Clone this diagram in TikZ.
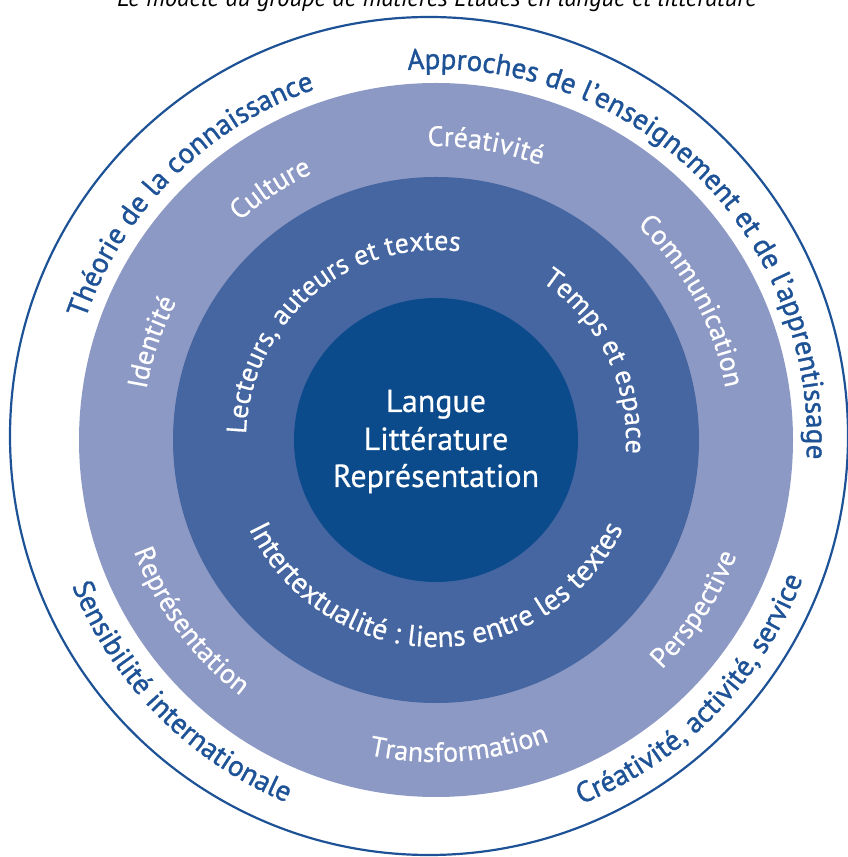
\documentclass[tikz,border=0pt]{standalone}
\usepackage{fontspec}
\setmainfont{PT Sans}
\newfontfamily\outerfam{PT Sans}[FakeBold=1.2]
\newfontfamily\innerfam{PT Sans}[FakeBold=0.5]
\usetikzlibrary{decorations.text}

\definecolor{ringblue}{HTML}{1E5296}
\definecolor{lightring}{HTML}{8D99C5}
\definecolor{darkring}{HTML}{4566A1}
\definecolor{corefill}{HTML}{0B4A8B}

\newcommand{\outerfont}{\outerfam\fontsize{29}{29}\selectfont}
\newcommand{\ringfont}{\innerfam\fontsize{28}{28}\selectfont}
\newcommand{\darkfont}{\innerfam\fontsize{28}{28}\selectfont}
\newcommand{\darkwidefont}{\innerfam\fontsize{29.5}{29.5}\selectfont}

% text set clockwise over the top of a circle (baseline inside)
\newcommand{\toplabel}[5]{%
  \path[#4={#5}] (#2+#3:#1) arc[start angle=#2+#3, end angle=#2-#3, radius=#1];}
% text set anticlockwise under the bottom of a circle (baseline outside)
\newcommand{\botlabel}[5]{%
  \path[#4={#5}] (#2-#3:#1) arc[start angle=#2-#3, end angle=#2+#3, radius=#1];}

\tikzset{
  outerlbl/.style={decorate, decoration={text along path, text align=center,
      text color=ringblue, text={|\outerfont|#1}}},
  ringlbl/.style={decorate, decoration={text along path, text align=center,
      text color=white, text={|\ringfont|#1}}},
  darklbl/.style={decorate, decoration={text along path, text align=center,
      text color=white, text={|\darkfont|#1}}},
  darkwidelbl/.style={decorate, decoration={text along path, text align=center,
      text color=white, text={|\darkwidefont|#1}}},
  corelbl/.style={anchor=base, text=white, inner sep=0pt,
      font=\innerfam\fontsize{32}{32}\selectfont},
}

\begin{document}
\begin{tikzpicture}[x=1pt,y=1pt]
\useasboundingbox (0,0) rectangle (848,857);

% title line
\node[anchor=base, inner sep=0pt, font=\itshape\fontsize{24.5}{24.5}\selectfont]
  (title) at (437,850) {Le modèle du groupe de matières Études en langue et littérature};

% outer ring outline
\coordinate (O) at (429,421);
\draw[ringblue, line width=2.2] (O) circle[radius=419];

\begin{scope}[shift={(436,417)}]
  \coordinate (C) at (0,0);
  \fill[lightring] (C) circle[radius=357];
  \fill[darkring] (C) circle[radius=263];
  \fill[corefill] (C) circle[radius=142];

  % outer band
  \toplabel{371}{135}{40}{outerlbl}{Théorie de la connaissance}
  \toplabel{371}{45.7}{65}{outerlbl}{Approches de l’enseignement et de l’apprentissage}
  \botlabel{392}{224.7}{40}{outerlbl}{Sensibilité internationale}
  \botlabel{392}{315.5}{40}{outerlbl}{Créativité, activité, service}

  % light ring
  \toplabel{294}{161}{25}{ringlbl}{Identité}
  \toplabel{294}{123.4}{25}{ringlbl}{Culture}
  \toplabel{294}{80.4}{25}{ringlbl}{Créativité}
  \toplabel{294}{28.5}{35}{ringlbl}{Communication}
  \botlabel{322}{216.4}{30}{ringlbl}{Représentation}
  \botlabel{322}{274.3}{30}{ringlbl}{Transformation}
  \botlabel{322}{326.8}{25}{ringlbl}{Perspective}

  % dark ring
  \toplabel{190}{130.5}{65}{darklbl}{Lecteurs, auteurs et textes}
  \toplabel{190}{26.1}{45}{darklbl}{Temps et espace}
  \botlabel{207}{270}{88}{darkwidelbl}{Intertextualité : liens entre les textes}
\end{scope}

% core
\node[corelbl] (core1) at (436,445) {Langue};
\node[corelbl] (core2) at (436,407) {Littérature};
\node[corelbl] (core3) at (436,370) {Représentation};
\end{tikzpicture}
\end{document}
